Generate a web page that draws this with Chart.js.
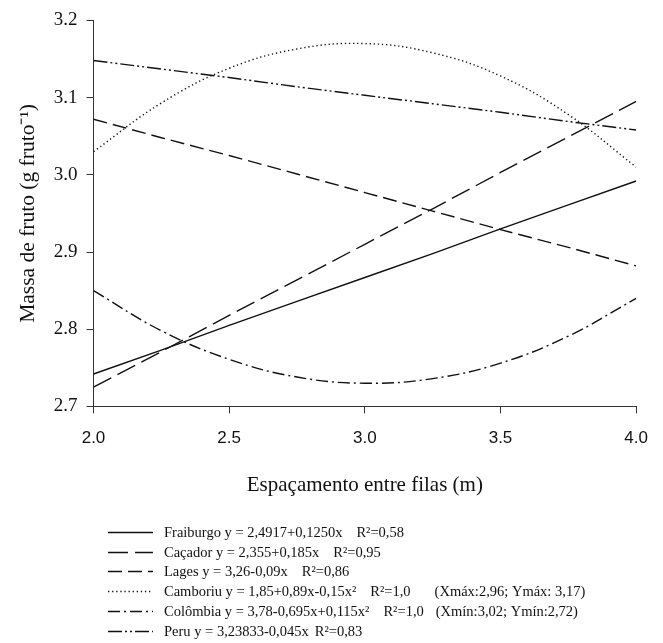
<!DOCTYPE html>
<html>
<head>
<meta charset="utf-8">
<script src="https://cdn.jsdelivr.net/npm/chart.js@4.4.1/dist/chart.umd.min.js"></script>
<style>
  html, body { margin: 0; padding: 0; background: #fff; }
  #wrap { width: 663px; height: 643px; }
</style>
</head>
<body>
<div id="wrap"><canvas id="c" width="663" height="643"></canvas></div>
<script>
// Espaçamento entre filas (m) at which values were read
const spacing = [2.0, 2.25, 2.5, 2.75, 3.0, 3.25, 3.5, 3.75, 4.0];

// Massa de fruto (g fruto-1)
const fraiburgo = [2.742, 2.773, 2.805, 2.836, 2.867, 2.898, 2.930, 2.961, 2.992];
const cacador   = [2.725, 2.771, 2.818, 2.864, 2.910, 2.956, 3.003, 3.049, 3.095];
const lages     = [3.072, 3.048, 3.025, 3.001, 2.977, 2.953, 2.929, 2.906, 2.882];
const camboriu  = [3.030, 3.093, 3.138, 3.163, 3.170, 3.158, 3.128, 3.078, 3.010];
const colombia  = [2.850, 2.798, 2.761, 2.738, 2.730, 2.736, 2.756, 2.791, 2.840];
const peru      = [3.148, 3.137, 3.126, 3.114, 3.103, 3.092, 3.081, 3.069, 3.058];

const seriesNames = ['Fraiburgo', 'Caçador', 'Lages', 'Camboriu', 'Colômbia', 'Peru'];
const equations = [
  ['Fraiburgo y = 2,4917+0,1250x', 'R²=0,58', ''],
  ['Caçador y = 2,355+0,185x', 'R²=0,95', ''],
  ['Lages y = 3,26-0,09x', 'R²=0,86', ''],
  ['Camboriu y = 1,85+0,89x-0,15x²', 'R²=1,0', '(Xmáx:2,96; Ymáx: 3,17)'],
  ['Colômbia y = 3,78-0,695x+0,115x²', 'R²=1,0', '(Xmín:3,02; Ymín:2,72)'],
  ['Peru y = 3,23833-0,045x', 'R²=0,83', '']
];

const xTicks = [2.0, 2.5, 3.0, 3.5, 4.0];
const yTicks = [2.7, 2.8, 2.9, 3.0, 3.1, 3.2];

const allSeries = [fraiburgo, cacador, lages, camboriu, colombia, peru];
const dashes = [[], [20, 7], [14, 6], [1.3, 2.8], [12, 4, 2, 4], [14, 3, 2, 3, 2, 3]];
const tensions = [0, 0, 0, 0.4, 0.4, 0];
const eqGap = [14, 14, 14, 14, 14, 6];
const extraGap = [0, 0, 0, 24, 12, 0];

const datasets = allSeries.map((vals, i) => ({
  label: seriesNames[i],
  data: spacing.map((x, j) => ({ x: x, y: vals[j] })),
  borderColor: '#111',
  borderWidth: 1.4,
  borderDash: dashes[i],
  pointRadius: 0,
  fill: false,
  tension: tensions[i]
}));

const legendPlugin = {
  id: 'customLegend',
  afterDraw(chart) {
    const ctx = chart.ctx;
    ctx.save();
    const x0 = 108, x1 = 153, tx = 164, y0 = 532, dy = 19.7;
    chart.data.datasets.forEach((ds, i) => {
      const y = Math.round(y0 + i * dy);
      ctx.beginPath();
      ctx.setLineDash(ds.borderDash || []);
      ctx.lineWidth = 1.4;
      ctx.strokeStyle = '#111';
      ctx.moveTo(x0, y + 0.5);
      ctx.lineTo(x1, y + 0.5);
      ctx.stroke();
      ctx.setLineDash([]);
      ctx.fillStyle = '#111';
      ctx.font = '14.5px "Liberation Serif", "DejaVu Serif", serif';
      ctx.textBaseline = 'middle';
      ctx.textAlign = 'left';
      const parts = equations[i];
      let x = tx;
      ctx.fillText(parts[0], x, y + 1);
      x += ctx.measureText(parts[0]).width + eqGap[i];
      ctx.fillText(parts[1], x, y + 1);
      x += ctx.measureText(parts[1]).width + extraGap[i];
      if (parts[2]) ctx.fillText(parts[2], x, y + 1);
    });
    ctx.restore();
  }
};

new Chart(document.getElementById('c'), {
  type: 'line',
  data: { datasets: datasets },
  options: {
    responsive: false,
    animation: false,
    layout: { padding: { left: 0, right: 19, top: 20, bottom: 145 } },
    plugins: { legend: { display: false }, tooltip: { enabled: false } },
    scales: {
      x: {
        type: 'linear',
        min: 2.0, max: 4.0,
        afterBuildTicks: s => { s.ticks = xTicks.map(v => ({ value: v })); },
        ticks: {
          callback: v => v.toFixed(1),
          color: '#111',
          padding: 15,
          maxRotation: 0,
          font: { family: '"Liberation Sans", Arial, sans-serif', size: 17 }
        },
        grid: { drawOnChartArea: false, drawTicks: true, tickLength: 7, color: '#333', tickWidth: 1 },
        border: { display: true, color: '#333', width: 1 },
        title: {
          display: true,
          text: 'Espaçamento entre filas (m)',
          color: '#111',
          padding: { top: 9, bottom: 0 },
          font: { family: '"Liberation Serif", "Times New Roman", serif', size: 21 }
        }
      },
      y: {
        min: 2.7, max: 3.2,
        afterBuildTicks: s => { s.ticks = yTicks.map(v => ({ value: v })); },
        afterFit: s => { s.width = 93.5; },
        ticks: {
          callback: v => v.toFixed(1),
          color: '#111',
          padding: 9,
          font: { family: '"Liberation Serif", "Times New Roman", serif', size: 19 }
        },
        grid: { drawOnChartArea: false, drawTicks: true, tickLength: 7, color: '#333', tickWidth: 1 },
        border: { display: true, color: '#333', width: 1 },
        title: {
          display: true,
          text: 'Massa de fruto (g fruto⁻¹)',
          color: '#111',
          padding: { top: 15, bottom: 0 },
          font: { family: '"Liberation Serif", "Times New Roman", serif', size: 21.5 }
        }
      }
    }
  },
  plugins: [legendPlugin]
});
</script>
</body>
</html>
